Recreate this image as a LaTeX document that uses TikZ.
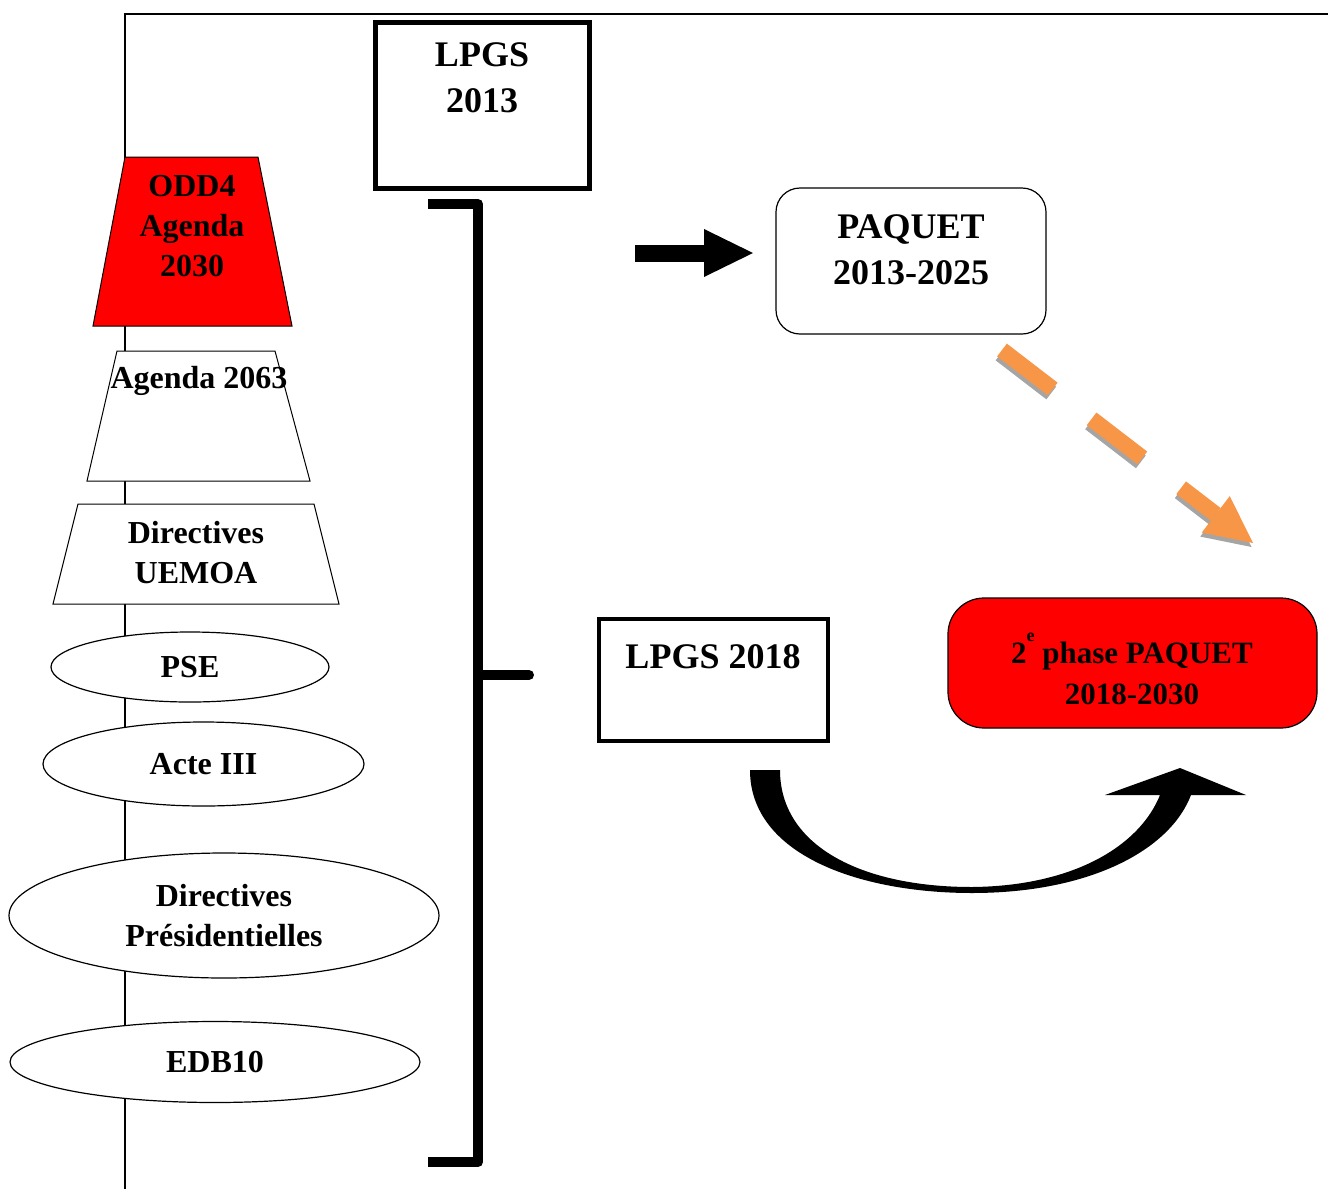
\documentclass[tikz,border=0pt]{standalone}
\usepackage{fontspec}
\setmainfont{Liberation Serif}
\usetikzlibrary{shapes.geometric,arrows.meta}
\definecolor{pred}{RGB}{255,0,0}
\definecolor{porange}{RGB}{247,150,70}
\definecolor{pshadow}{RGB}{165,165,165}
\begin{document}
\begin{tikzpicture}[x=1pt,y=-1pt,
  lbig/.style={font=\fontsize{36}{46}\selectfont\bfseries, align=center, inner sep=0pt},
  lsmall/.style={font=\fontsize{32}{40}\selectfont\bfseries, align=center, inner sep=0pt},
  trap/.style={draw=black, line width=1pt},
  ell/.style={ellipse, draw=black, line width=1.2pt, fill=white, inner sep=0pt,
    font=\fontsize{32}{40}\selectfont\bfseries, align=center},
  thickbox/.style={draw=black, inner sep=0pt},
  bracket/.style={line width=10pt, line join=round},
  dasharrow/.style={line width=16pt, dash pattern=on 64pt off 49pt,
    -{Triangle[length=47pt,width=46pt,line width=0pt]}},
]
\useasboundingbox (0,0) rectangle (1328,1189);

% frame
\coordinate (fr) at (1328,14);
\coordinate (fc) at (125,14);
\coordinate (fb) at (125,1189);
\draw[line width=2pt] (fr) -- (fc) -- (fb);

% left column
\filldraw[trap, fill=pred] (125,157) -- (258,157) -- (292,326) -- (93,326) -- cycle;
\node[lsmall] (odd) at (192,226) {ODD4\\Agenda\\2030};

\filldraw[trap, fill=white] (117,351) -- (275,351) -- (310,481) -- (87,481) -- cycle;
\node[lsmall] (a63) at (199,381) {Agenda 2063};

\filldraw[trap, fill=white] (78,504) -- (314,504) -- (339,604) -- (53,604) -- cycle;
\node[lsmall] (uemoa) at (196,553) {Directives\\UEMOA};

\node[ell, minimum width=278pt, minimum height=70pt] (pse) at (190,667) {PSE};
\node[ell, minimum width=321pt, minimum height=84pt] (acte) at (203.5,764) {Acte III};
\node[ell, minimum width=430pt, minimum height=125pt] (dp) at (224,915.5) {Directives\\Présidentielles};
\node[ell, minimum width=410pt, minimum height=81pt] (edb) at (215,1062) {EDB10};

% LPGS 2013
\node[thickbox, line width=5pt, minimum width=214pt, minimum height=166pt] (l13) at (482.5,105.5) {};
\node[lbig] (l13t) at (482,78) {LPGS\\2013};

% bracket
\coordinate (b1) at (428,204);
\coordinate (b2) at (478,204);
\coordinate (b3) at (478,1162);
\coordinate (b4) at (428,1162);
\coordinate (bm) at (478,675);
\coordinate (bt) at (529,675);
\draw[bracket] (b1) -- (b2) -- (b3) -- (b4);
\draw[line width=10pt, line cap=round] (bm) -- (bt);

% PAQUET
\node[draw=black, line width=1.2pt, rounded corners=24pt, minimum width=270pt, minimum height=146pt, inner sep=0pt] (paq) at (911,261) {};
\node[lbig] (paqt) at (911,250) {PAQUET\\2013-2025};

% black arrow
\coordinate (ar1) at (635,253);
\coordinate (ar2) at (753,253);
\draw[line width=17pt, -{Triangle[length=49pt,width=48pt,line width=0pt]}] (ar1) -- (ar2);

% LPGS 2018
\node[thickbox, line width=4pt, minimum width=229pt, minimum height=122pt] (l18) at (713.5,680) {};
\node[lbig] (l18t) at (713,657) {LPGS 2018};

% 2e phase PAQUET
\node[draw=black, line width=1.2pt, fill=pred, rounded corners=36pt, minimum width=369pt, minimum height=130pt, inner sep=0pt] (ph2) at (1132.5,663) {};
\node[font=\fontsize{31}{41}\selectfont\bfseries, align=center, inner sep=0pt] (ph2t) at (1132,668.5)
  {2\raisebox{22pt}{\fontsize{18}{18}\selectfont e} phase PAQUET\\2018-2030};

% orange dashed arrow with shadow
\coordinate (o1) at (1002,350);
\coordinate (o2) at (1253,543);
\draw[pshadow, dasharrow] ([xshift=-1.5pt,yshift=-4pt]o1) -- ([xshift=-1.5pt,yshift=-4pt]o2);
\draw[porange, dasharrow] (o1) -- (o2);

% curved arrow
\fill[black] (750,770) .. controls (750,855) and (860,893) .. (972,893)
  .. controls (1090,893) and (1170,850) .. (1191,795)
  -- (1246,795) -- (1180,768) -- (1105,795) -- (1160,795)
  .. controls (1140,845) and (1075,886) .. (972,887)
  .. controls (860,887) and (780,845) .. (780,770) -- cycle;
\end{tikzpicture}
\end{document}
